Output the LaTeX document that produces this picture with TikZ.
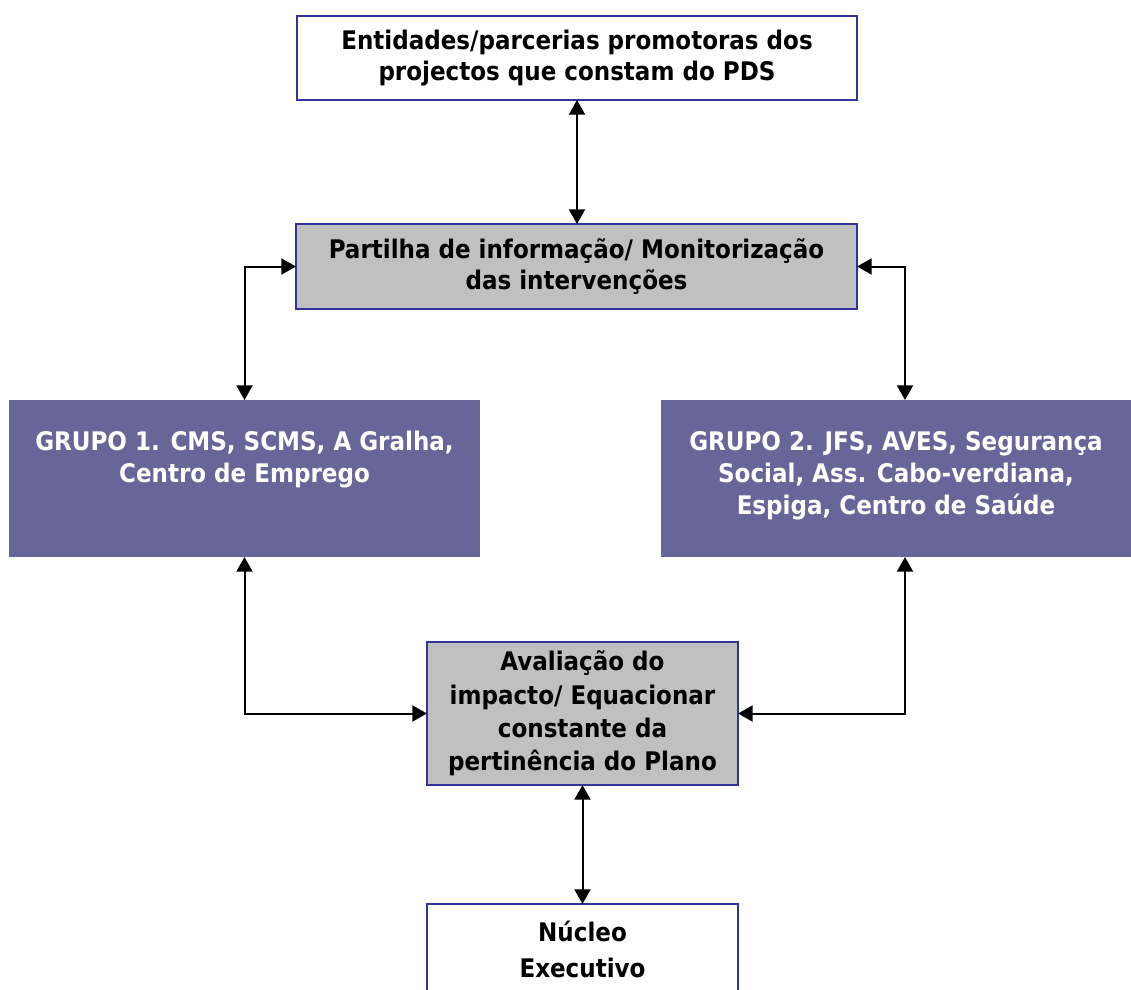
\documentclass[tikz,border=0pt]{standalone}
\usepackage{fontspec}
\setmainfont{DejaVu Sans Condensed}[BoldFont={DejaVu Sans Condensed Bold}]
\usetikzlibrary{arrows.meta}
\definecolor{edgeblue}{HTML}{333399}
\definecolor{boxgray}{HTML}{C0C0C0}
\definecolor{grpviolet}{HTML}{666699}
\begin{document}
\begin{tikzpicture}[x=0.75pt,y=-0.75pt,
  every node/.style={inner sep=0pt, outer sep=0pt, font=\bfseries\fontsize{19.2}{23.5}\selectfont, align=center},
  whitebox/.style={draw=edgeblue, line width=0.9pt, fill=white, rectangle},
  graybox/.style={draw=edgeblue, line width=0.9pt, fill=boxgray, rectangle},
  grpbox/.style={fill=grpviolet, rectangle},
  grptext/.style={text=white, anchor=north, font=\bfseries\fontsize{19.2}{24}\selectfont},
  dbl/.style={line width=1.5pt, {Triangle[length=11pt,width=12pt]}-{Triangle[length=11pt,width=12pt]}}
]
\useasboundingbox (0,0) rectangle (1131,989);
\fill[white] (0,0) rectangle (1131,989);

\node[whitebox, minimum width=420pt, minimum height=63pt] (top) at (577,58)
  {Entidades/parcerias promotoras dos\\projectos que constam do PDS};
\node[graybox, minimum width=420.75pt, minimum height=63.75pt] (part) at (576.5,266.5)
  {Partilha de informação/ Monitorização\\das intervenções};
\node[grpbox, minimum width=353.25pt, minimum height=117.75pt] (g1) at (244.5,478.5) {};
\node[grptext] (g1t) at (244.5,431) {GRUPO 1. CMS, SCMS, A Gralha,\\Centro de Emprego};
\node[grpbox, minimum width=352.5pt, minimum height=117.75pt] (g2) at (896,478.5) {};
\node[grptext] (g2t) at (896,431) {GRUPO 2. JFS, AVES, Segurança\\Social, Ass. Cabo-verdiana,\\Espiga, Centro de Saúde};
\node[graybox, minimum width=233.25pt, minimum height=107.25pt, font=\bfseries\fontsize{19.2}{25}\selectfont] (aval) at (582.5,713.5)
  {Avaliação do\\impacto/ Equacionar\\constante da\\pertinência do Plano};
\node[whitebox, minimum width=233.25pt, minimum height=67.5pt, font=\bfseries\fontsize{19.2}{27}\selectfont] (nuc) at (582.5,949)
  {Núcleo\\Executivo};

\coordinate (g2top) at ([xshift=6.75pt]g2.north);
\coordinate (g2bot) at ([xshift=6.75pt]g2.south);
\draw[dbl] (top.south) -- (top.south |- part.north);
\draw[dbl] (part.west) -| (g1.north);
\draw[dbl] (part.east) -| (g2top);
\draw[dbl] (g1.south) |- (aval.west);
\draw[dbl] (g2bot) |- (aval.east);
\draw[dbl] (aval.south) -- (nuc.north);
\end{tikzpicture}
\end{document}
